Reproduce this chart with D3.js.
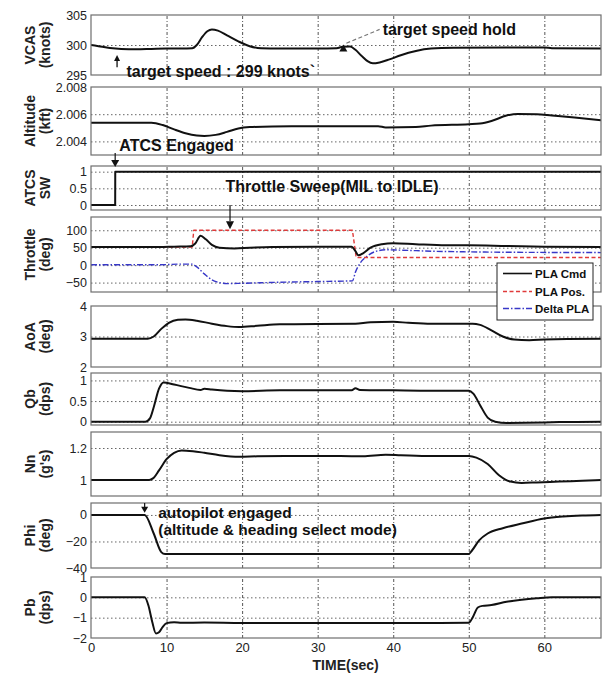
<!DOCTYPE html>
<html><head><meta charset="utf-8">
<script src="https://cdn.jsdelivr.net/npm/d3@7"></script>
<style>body{margin:0;background:#fff}svg{display:block}</style>
</head><body><svg id="c" width="605" height="677"></svg>
<script>
// ---------------- DATA ----------------
const timeTicks = [0, 10, 20, 30, 40, 50, 60];
const timeDomain = [0, 67.5];

const vcasDomain = [295, 305], vcasTicks = [295, 300, 305];
const vcasT = [0, 1, 2.5, 4, 6, 8, 10, 12, 13.4, 14, 14.7, 15.4, 16, 16.8, 18, 19.5, 21, 22.5, 25, 30, 32.5, 33.3, 34.3, 35, 35.8, 36.6, 37.3, 38.2, 39.5, 41, 43, 45, 48, 55, 60, 61, 67.5];
const vcasV = [300.0, 299.8, 299.5, 299.35, 299.3, 299.35, 299.4, 299.4, 299.45, 300.0, 301.3, 302.3, 302.6, 302.4, 301.6, 300.6, 299.8, 299.45, 299.4, 299.4, 299.45, 299.7, 299.75, 299.2, 298.2, 297.3, 296.95, 297.1, 297.6, 298.3, 299.0, 299.4, 299.55, 299.6, 299.6, 299.45, 299.4];

const altDomain = [2.003, 2.008], altTicks = [2.004, 2.006, 2.008];
const altT = [0, 8, 9.5, 11, 12.5, 14, 15, 16.5, 18, 19.5, 21, 24, 30, 38, 39, 43, 45, 50, 51.5, 53, 55, 56.5, 59, 61, 64, 67.5];
const altV = [2.00537, 2.00537, 2.0052, 2.00488, 2.0046, 2.00443, 2.0044, 2.00448, 2.0047, 2.00495, 2.00505, 2.0051, 2.00511, 2.00511, 2.00503, 2.00506, 2.00516, 2.00526, 2.00531, 2.0055, 2.0059, 2.00601, 2.006, 2.0059, 2.00575, 2.00555];

const atcsDomain = [-0.15, 1.17], atcsTicks = [0, 0.5, 1];
const atcsT = [0, 3.2, 3.21, 67.5];
const atcsV = [0, 0, 1, 1];

const thrDomain = [-77, 138], thrTicks = [-50, 0, 50, 100];
const plaCmdT = [0, 9, 11, 13.2, 13.8, 14.5, 15.2, 16, 17, 19, 21, 24, 30, 34.5, 35.0, 35.4, 36, 37, 38.5, 40, 43, 47, 50, 55, 60, 67.5];
const plaCmdV = [52, 52, 53, 54, 62, 84, 74, 58, 50, 48, 50, 52, 53, 53, 40, 28, 34, 50, 60, 63, 60, 57, 57, 55, 53, 52];
const plaPosT = [0, 13.4, 13.6, 34.6, 35.1, 67.5];
const plaPosV = [52, 52, 100, 100, 22, 22];
const deltaT = [0, 9, 12, 13.3, 14, 15, 16, 17, 18, 20, 25, 30, 34.6, 35, 35.6, 36.5, 37.5, 39, 41, 45, 50, 55, 67.5];
const deltaV = [1, 1, 3, 3, -5, -25, -42, -50, -53, -52, -49, -47, -45, -20, 5, 25, 38, 44, 43, 40, 38, 37, 36];

const aoaDomain = [2, 4], aoaTicks = [2, 3, 4];
const aoaT = [0, 7.5, 8.3, 9.3, 10.3, 11.5, 12.5, 14, 16, 18, 19.6, 22, 25, 30, 35, 37, 40, 42, 45, 50.5, 51.5, 53, 54.5, 56, 58, 60, 63, 67.5];
const aoaV = [2.93, 2.93, 3.0, 3.25, 3.45, 3.55, 3.56, 3.52, 3.42, 3.34, 3.31, 3.35, 3.4, 3.41, 3.42, 3.47, 3.48, 3.45, 3.42, 3.42, 3.38, 3.2, 3.0, 2.9, 2.88, 2.9, 2.92, 2.93];

const qbDomain = [-0.08, 1.18], qbTicks = [0, 0.5, 1];
const qbT = [0, 7.2, 7.8, 8.3, 9.0, 9.6, 11, 13, 14.5, 15, 16, 18, 20, 25, 30, 34.5, 35, 35.6, 40, 45, 50, 50.6, 51.5, 52.5, 53.5, 55, 60, 62, 67.5];
const qbV = [0, 0, 0.08, 0.35, 0.8, 0.95, 0.9, 0.82, 0.77, 0.8, 0.78, 0.75, 0.74, 0.76, 0.76, 0.76, 0.81, 0.77, 0.76, 0.75, 0.75, 0.68, 0.4, 0.1, 0.0, -0.03, -0.02, -0.01, 0.0];

const nnDomain = [0.9, 1.3], nnTicks = [1, 1.2];
const nnT = [0, 7.7, 8.2, 9, 10, 11, 12, 13.5, 15, 17, 19.6, 22, 27, 33, 36, 39, 41, 45, 50, 51, 52.5, 54, 55.5, 57, 59, 62, 65, 67.5];
const nnV = [1.0, 1.0, 1.01, 1.06, 1.13, 1.17, 1.185, 1.18, 1.17, 1.155, 1.145, 1.148, 1.15, 1.15, 1.148, 1.158, 1.155, 1.15, 1.15, 1.14, 1.1, 1.03, 0.99, 0.982, 0.985, 0.99, 0.995, 1.0];

const phiDomain = [-40, 9], phiTicks = [-40, -20, 0];
const phiT = [0, 7.1, 8.3, 9.3, 9.8, 50, 50.4, 51.4, 52.5, 54.5, 57, 60, 62.5, 65, 67.5];
const phiV = [0, 0, -14, -28, -29.5, -29.5, -27, -19, -14, -10, -6.5, -2.7, -1.2, -0.4, 0];

const pbDomain = [-2, 1], pbTicks = [-2, -1, 0, 1];
const pbT = [0, 7.1, 7.6, 8.1, 8.6, 9.0, 9.5, 10, 11, 12, 15, 20, 30, 40, 50, 50.5, 51.2, 51.8, 53, 55, 57, 59, 61, 67.5];
const pbV = [0, 0, -0.4, -1.2, -1.78, -1.72, -1.45, -1.27, -1.22, -1.25, -1.24, -1.26, -1.26, -1.26, -1.25, -1.0, -0.5, -0.42, -0.38, -0.22, -0.12, -0.05, 0, 0];

const legendLabels = ["PLA Cmd", "PLA Pos.", "Delta PLA"];

// ---------------- LAYOUT ----------------
const FONT = "'Liberation Sans', Arial, sans-serif";
const svg = d3.select('#c');
const X0 = 91, X1 = 601;
const x = d3.scaleLinear().domain(timeDomain).range([X0, X1]);
const zip = (t, v) => t.map((d, i) => [d, v[i]]);

const panels = [
  {l1: 'VCAS', l2: '(knots)', dom: vcasDomain, ticks: vcasTicks, fmt: d3.format('d'), top: 15, bot: 75,
   series: [{data: zip(vcasT, vcasV), kind: 'black'}]},
  {l1: 'Altitude', l2: '(kft)', dom: altDomain, ticks: altTicks, fmt: d3.format('.3f'), top: 87, bot: 155,
   series: [{data: zip(altT, altV), kind: 'black'}]},
  {l1: 'ATCS', l2: 'SW', dom: atcsDomain, ticks: atcsTicks, fmt: d => String(d), top: 166, bot: 210,
   series: [{data: zip(atcsT, atcsV), kind: 'black', linear: true}]},
  {l1: 'Throttle', l2: '(deg)', dom: thrDomain, ticks: thrTicks, fmt: d3.format('d'), top: 217, bot: 292,
   series: [{data: zip(deltaT, deltaV), kind: 'blue'}, {data: zip(plaPosT, plaPosV), kind: 'red', linear: true}, {data: zip(plaCmdT, plaCmdV), kind: 'black'}]},
  {l1: 'AoA', l2: '(deg)', dom: aoaDomain, ticks: aoaTicks, fmt: d3.format('d'), top: 306, bot: 367,
   series: [{data: zip(aoaT, aoaV), kind: 'black'}]},
  {l1: 'Qb', l2: '(dps)', dom: qbDomain, ticks: qbTicks, fmt: d => String(d), top: 373, bot: 425,
   series: [{data: zip(qbT, qbV), kind: 'black'}]},
  {l1: 'Nn', l2: "(g's)", dom: nnDomain, ticks: nnTicks, fmt: d => String(d), top: 432, bot: 496,
   series: [{data: zip(nnT, nnV), kind: 'black'}]},
  {l1: 'Phi', l2: '(deg)', dom: phiDomain, ticks: phiTicks, fmt: d3.format('d'), top: 503, bot: 568,
   series: [{data: zip(phiT, phiV), kind: 'black'}]},
  {l1: 'Pb', l2: '(dps)', dom: pbDomain, ticks: pbTicks, fmt: d3.format('d'), top: 577, bot: 638,
   series: [{data: zip(pbT, pbV), kind: 'black'}]}
];

const styles = {
  black: {stroke: '#111', width: 2, dash: null},
  red: {stroke: '#e03a3a', width: 1.4, dash: '4,2.5'},
  blue: {stroke: '#3838c8', width: 1.4, dash: '6,2,1.5,2'}
};

svg.append('rect').attr('width', 605).attr('height', 677).attr('fill', '#fff');

panels.forEach((p, i) => {
  const y = d3.scaleLinear().domain(p.dom).range([p.bot, p.top]);
  p.y = y;
  const g = svg.append('g');
  g.append('rect').attr('x', X0).attr('y', p.top).attr('width', X1 - X0).attr('height', p.bot - p.top).attr('fill', '#fff');
  const clipId = 'clip' + i;
  svg.append('clipPath').attr('id', clipId).append('rect')
    .attr('x', X0).attr('y', p.top).attr('width', X1 - X0).attr('height', p.bot - p.top);
  // vertical grid (via axis generator)
  const vg = g.append('g').attr('class', 'vgrid').attr('transform', `translate(0,${p.bot})`)
    .call(d3.axisBottom(x).tickValues(timeTicks.filter(t => t > 0)).tickSize(-(p.bot - p.top)).tickFormat(''));
  vg.select('.domain').remove();
  vg.selectAll('line').attr('stroke', '#555').attr('stroke-width', 1).attr('stroke-dasharray', '3,2,1,2');
  // horizontal grid (via axis generator)
  const inner = p.ticks.filter(t => Math.abs(y(t) - p.top) > 2 && Math.abs(y(t) - p.bot) > 2);
  const hg = g.append('g').attr('class', 'hgrid').attr('transform', `translate(${X0},0)`)
    .call(d3.axisLeft(y).tickValues(inner).tickSize(-(X1 - X0)).tickFormat(''));
  hg.select('.domain').remove();
  hg.selectAll('line').attr('stroke', '#666').attr('stroke-width', 1).attr('stroke-dasharray', '1.5,2.5');
  // series
  p.series.forEach(s => {
    const st = styles[s.kind];
    const line = d3.line().x(d => x(d[0])).y(d => y(d[1])).curve(s.linear ? d3.curveLinear : d3.curveMonotoneX);
    g.append('path').attr('d', line(s.data)).attr('fill', 'none')
      .attr('stroke', st.stroke).attr('stroke-width', st.width)
      .attr('stroke-dasharray', st.dash).attr('clip-path', `url(#${clipId})`)
      .attr('stroke-linejoin', 'round');
  });
  // frame
  g.append('rect').attr('x', X0).attr('y', p.top).attr('width', X1 - X0).attr('height', p.bot - p.top)
    .attr('fill', 'none').attr('stroke', '#6e6e6e').attr('stroke-width', 1.2);
  // y axis labels
  const ax = g.append('g').attr('transform', `translate(${X0},0)`)
    .call(d3.axisLeft(y).tickValues(p.ticks).tickFormat(p.fmt).tickSize(0).tickPadding(4));
  ax.select('.domain').remove();
  ax.selectAll('text').attr('font-family', FONT).attr('font-size', 12.5).attr('fill', '#222');
  // y title
  const cy = (p.top + p.bot) / 2;
  g.append('text').attr('transform', `translate(35,${cy}) rotate(-90)`).attr('text-anchor', 'middle')
    .attr('font-family', FONT).attr('font-weight', 'bold').attr('font-size', 14).attr('fill', '#222').text(p.l1);
  g.append('text').attr('transform', `translate(50,${cy}) rotate(-90)`).attr('text-anchor', 'middle')
    .attr('font-family', FONT).attr('font-weight', 'bold').attr('font-size', 14).attr('fill', '#222').text(p.l2);
});

// x axis
const last = panels[panels.length - 1];
const xa = svg.append('g').attr('transform', `translate(0,${last.bot})`)
  .call(d3.axisBottom(x).tickValues(timeTicks).tickSize(0).tickPadding(5));
xa.select('.domain').remove();
xa.selectAll('text').attr('font-family', FONT).attr('font-size', 13).attr('fill', '#222');
svg.append('text').attr('x', x(33.7)).attr('y', 670).attr('text-anchor', 'middle')
  .attr('font-family', FONT).attr('font-weight', 'bold').attr('font-size', 14).attr('fill', '#222').text('TIME(sec)');

// ---------------- ANNOTATIONS ----------------
const P = panels;
function ann(px, py, txt, size) {
  svg.append('text').attr('x', px).attr('y', py).attr('font-family', FONT).attr('font-weight', 'bold')
    .attr('font-size', size || 16).attr('fill', '#111').text(txt);
}
function triDown(cx, tip, w, h) {
  svg.append('path').attr('d', `M${cx - w / 2},${tip - h}L${cx + w / 2},${tip - h}L${cx},${tip}Z`).attr('fill', '#111');
}
function triUp(cx, tip, w, h) {
  svg.append('path').attr('d', `M${cx - w / 2},${tip + h}L${cx + w / 2},${tip + h}L${cx},${tip}Z`).attr('fill', '#111');
}
// VCAS
const yv = P[0].y;
ann(x(4.7), yv(294.65), 'target speed : 299 knots`');
svg.append('line').attr('x1', x(3.45)).attr('x2', x(3.45)).attr('y1', yv(296.3)).attr('y2', yv(297.6)).attr('stroke', '#111').attr('stroke-width', 1.3);
triUp(x(3.45), yv(298.35), 6, 6);
triUp(x(33.4), yv(300.1), 8, 7);
svg.append('line').attr('x1', x(33.8)).attr('y1', yv(300.3)).attr('x2', x(38.2)).attr('y2', yv(302.6))
  .attr('stroke', '#777').attr('stroke-width', 1.2).attr('stroke-dasharray', '4,2.5');
ann(x(38.6), yv(301.7), 'target speed hold');
// ATCS engaged
const ya = P[1].y;
ann(x(3.75), ya(2.00332), 'ATCS Engaged');
svg.append('line').attr('x1', x(3.2)).attr('x2', x(3.2)).attr('y1', 153).attr('y2', 161).attr('stroke', '#111').attr('stroke-width', 1.2);
triDown(x(3.2), P[2].top + 1, 8, 7);
// Throttle sweep
const ys = P[2].y;
ann(x(17.8), ys(0.4), 'Throttle Sweep(MIL to IDLE)');
svg.append('line').attr('x1', x(18.4)).attr('x2', x(18.4)).attr('y1', P[2].bot - 5).attr('y2', P[3].top + 4).attr('stroke', '#111').attr('stroke-width', 1.2);
triDown(x(18.4), P[3].y(100) - 1, 8, 8);
// autopilot
const yp = P[7].y;
svg.append('line').attr('x1', x(7.1)).attr('x2', x(7.1)).attr('y1', P[7].top).attr('y2', P[7].top + 4).attr('stroke', '#111').attr('stroke-width', 1.2);
triDown(x(7.1), yp(1.6), 7, 6);
ann(x(8.9), yp(0.8) + 4, 'autopilot engaged', 15.5);
ann(x(8.9), yp(-10.8) + 6, '(altitude & heading select mode)', 15.5);

// ---------------- LEGEND ----------------
const lg = svg.append('g');
lg.append('rect').attr('x', 497).attr('y', 263).attr('width', 96).attr('height', 57)
  .attr('fill', '#fff').attr('stroke', '#222').attr('stroke-width', 1);
const legKinds = ['black', 'red', 'blue'];
const legY = [273.5, 291.5, 308.5];
legendLabels.forEach((lab, i) => {
  const st = styles[legKinds[i]];
  lg.append('line').attr('x1', 503).attr('x2', 532).attr('y1', legY[i]).attr('y2', legY[i])
    .attr('stroke', st.stroke).attr('stroke-width', i === 0 ? 1.6 : 1.3).attr('stroke-dasharray', st.dash);
  lg.append('text').attr('x', 535).attr('y', legY[i] + 4).attr('font-family', FONT).attr('font-weight', 'bold')
    .attr('font-size', 11.5).attr('fill', '#111').text(lab);
});
</script>
</body></html>
